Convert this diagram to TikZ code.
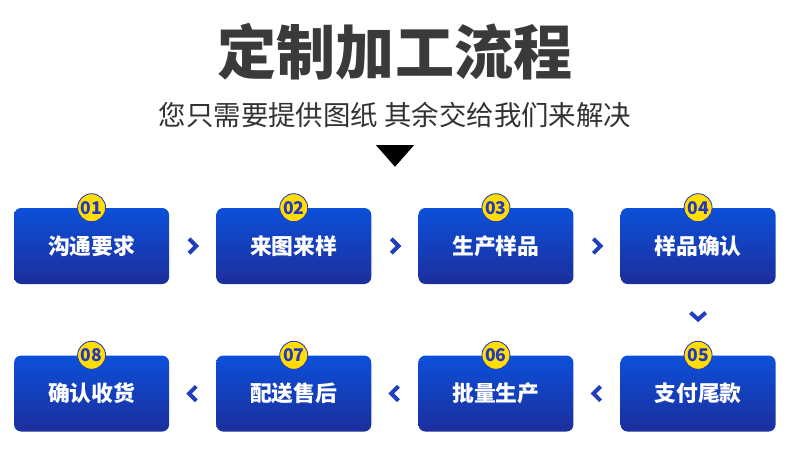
\documentclass[tikz,border=0pt]{standalone}
\usepackage{fontspec}
\setmainfont{Noto Sans CJK SC}
\usepackage{xcolor}
\definecolor{titlegray}{RGB}{58,58,58}
\definecolor{subgray}{RGB}{50,50,50}
\definecolor{boxtop}{RGB}{12,80,218}
\definecolor{boxbot}{RGB}{28,46,156}
\definecolor{chevblue}{RGB}{32,62,190}
\definecolor{badgeyellow}{RGB}{255,222,0}
\definecolor{badgeblue}{RGB}{36,56,190}
\usetikzlibrary{positioning,calc}

\begin{document}
\begin{tikzpicture}[node distance=1.775cm and 1.165cm]
  \tikzstyle{stepbox}=[rectangle,rounded corners=5pt,top color=boxtop,bottom color=boxbot,draw=none,minimum width=3.875cm,minimum height=1.9cm,text=white,font=\bfseries\fontsize{15.5}{18}\selectfont]
  \tikzstyle{badge}=[circle,fill=badgeyellow,draw=badgeblue,line width=0.6pt,minimum size=0.7cm,inner sep=0pt,text=badgeblue,font=\bfseries\fontsize{12.5}{14}\selectfont]
  \tikzstyle{chev}=[draw=chevblue,line width=0.1cm,line join=miter]
  \useasboundingbox (0,0) rectangle (19.75,-11.35);
  % title
  \node[text=titlegray,font=\bfseries\fontsize{42}{48}\selectfont] (title) at (9.875,-1.3) {定制加工流程};
  \node[text=subgray,font=\fontsize{19.5}{22}\selectfont] (sub) at (9.875,-2.88) {您只需要提供图纸 其余交给我们来解决};
  \fill[black] (9.4,-3.63) -- (10.35,-3.63) -- (9.875,-4.17) -- cycle;
  % steps
  \node[stepbox] (s1) at (2.29,-6.15) {沟通要求};
  \node[stepbox,right=of s1] (s2) {来图来样};
  \node[stepbox,right=of s2] (s3) {生产样品};
  \node[stepbox,right=of s3] (s4) {样品确认};
  \node[stepbox,below=of s4] (s5) {支付尾款};
  \node[stepbox,left=of s5] (s6) {批量生产};
  \node[stepbox,left=of s6] (s7) {配送售后};
  \node[stepbox,left=of s7] (s8) {确认收货};
  \node[badge] (b1) at (s1.north) {01};
  \node[badge] (b2) at (s2.north) {02};
  \node[badge] (b3) at (s3.north) {03};
  \node[badge] (b4) at (s4.north) {04};
  \node[badge] (b5) at (s5.north) {05};
  \node[badge] (b6) at (s6.north) {06};
  \node[badge] (b7) at (s7.north) {07};
  \node[badge] (b8) at (s8.north) {08};
  % chevrons
  \draw[chev] ($(s1.east)!.5!(s2.west)$) ++(-0.09,0.18) -- ++(0.18,-0.18) -- ++(-0.18,-0.18);
  \draw[chev] ($(s2.east)!.5!(s3.west)$) ++(-0.09,0.18) -- ++(0.18,-0.18) -- ++(-0.18,-0.18);
  \draw[chev] ($(s3.east)!.5!(s4.west)$) ++(-0.09,0.18) -- ++(0.18,-0.18) -- ++(-0.18,-0.18);
  \draw[chev] ($(s4.south)!.45!(s5.north)$) ++(-0.19,0.09) -- ++(0.19,-0.17) -- ++(0.19,0.17);
  \draw[chev] ($(s5.west)!.5!(s6.east)$) ++(0.09,0.18) -- ++(-0.18,-0.18) -- ++(0.18,-0.18);
  \draw[chev] ($(s6.west)!.5!(s7.east)$) ++(0.09,0.18) -- ++(-0.18,-0.18) -- ++(0.18,-0.18);
  \draw[chev] ($(s7.west)!.5!(s8.east)$) ++(0.09,0.18) -- ++(-0.18,-0.18) -- ++(0.18,-0.18);
\end{tikzpicture}
\end{document}
